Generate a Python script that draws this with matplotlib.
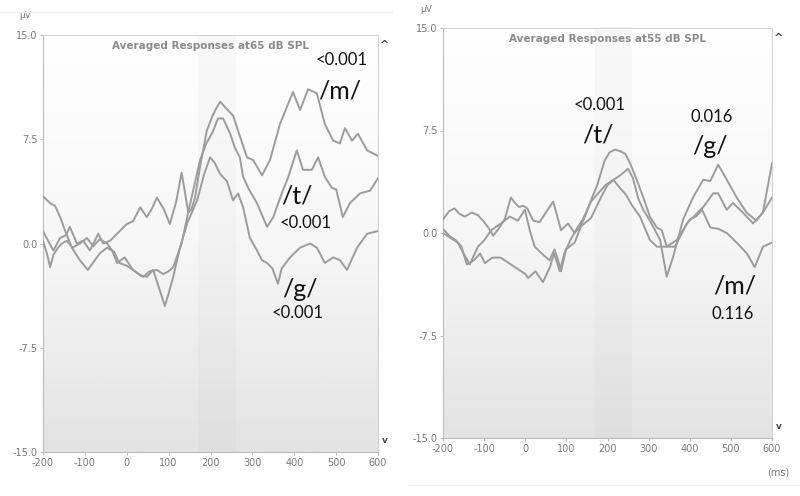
import numpy as np
import matplotlib
matplotlib.use("Agg")
import matplotlib.pyplot as plt

# ---------------- data ----------------
xticks = [-200, -100, 0, 100, 200, 300, 400, 500, 600]
yticks = [-15.0, -7.5, 0.0, 7.5, 15.0]
ytick_labels = ["-15.0", "-7.5", "0.0", "7.5", "15.0"]

titles = ["Averaged Responses at65 dB SPL", "Averaged Responses at55 dB SPL"]

# Left panel (65 dB SPL)
L_m_ms = [-200, -188, -175, -159, -145, -136, -119, -104, -88, -68, -56, -40, -20, 0, 15, 32, 48, 60, 72, 88,
          103, 118, 131, 140, 147, 155, 163, 175, 191, 205, 215, 223, 235, 254, 266, 287, 302, 323, 342, 366,
          386, 397, 414, 433, 454, 473, 493, 509, 521, 538, 552, 574, 600]
L_m_uv = [0.9, 0.2, -0.5, 0.4, 0.6, 1.2, 0.0, 0.2, -0.5, 0.7, 0.0, 0.2, 0.8, 1.4, 1.6, 2.6, 1.9, 2.5, 3.3, 2.5,
          1.4, 3.0, 5.1, 3.5, 2.2, 2.5, 3.3, 5.5, 8.1, 9.2, 9.8, 10.2, 9.8, 9.2, 8.1, 6.2, 6.0, 4.9, 6.0, 8.6,
          10.1, 10.9, 9.6, 11.1, 10.8, 8.6, 7.4, 7.2, 8.3, 7.4, 7.9, 6.7, 6.3]

L_t_ms = [-200, -183, -171, -159, -147, -131, -112, -93, -81, -64, -47, -30, -18, 0, 20, 39, 55, 72, 87, 100,
          111, 131, 145, 160, 175, 190, 205, 218, 230, 247, 258, 270, 278, 290, 311, 335, 350, 370, 386, 406,
          421, 442, 457, 473, 490, 500, 516, 533, 557, 581, 600]
L_t_uv = [3.4, 2.9, 2.7, 1.9, 0.9, -0.3, -1.2, -1.9, -1.4, -0.7, -0.3, -0.6, -1.4, -1.6, -2.0, -2.4, -2.0, -1.9, -2.2, -2.0,
          -1.7, 0.0, 2.0, 4.0, 6.0, 7.2, 8.0, 9.0, 9.0, 7.9, 6.9, 6.2, 4.8, 4.0, 2.9, 1.2, 1.9, 3.6, 4.8, 6.7,
          5.3, 5.3, 6.2, 4.8, 4.0, 3.9, 1.9, 2.9, 3.6, 3.8, 4.7]

L_g_ms = [-200, -190, -183, -175, -164, -155, -143, -130, -112, -95, -80, -65, -47, -35, -23, -5, 15, 32, 48, 63,
          75, 91, 100, 111, 127, 145, 168, 185, 199, 210, 223, 239, 254, 266, 278, 294, 311, 323, 335, 348,
          361, 370, 390, 414, 438, 454, 473, 493, 509, 526, 550, 574, 600]
L_g_uv = [0.2, -0.8, -1.7, -0.8, -0.3, 0.0, 0.2, -0.3, 0.0, 0.4, -0.2, 0.3, 0.0, -0.5, -1.4, -1.0, -1.9, -2.3, -2.4, -1.9,
          -3.0, -4.5, -3.6, -2.4, -0.3, 1.5, 3.1, 5.0, 6.2, 5.8, 5.0, 4.5, 3.1, 3.6, 2.6, 0.4, -0.5, -1.2, -1.4, -1.8,
          -2.9, -1.8, -1.0, -0.3, 0.0, -0.3, -1.4, -1.0, -1.2, -1.9, -0.3, 0.7, 0.9]

# Right panel (55 dB SPL)
R_t_ms = [-200, -185, -172, -160, -147, -130, -115, -100, -90, -78, -65, -50, -35, -25, -15, -5, 5, 19, 35, 50,
          68, 78, 87, 104, 120, 135, 145, 160, 175, 193, 205, 218, 230, 243, 255, 271, 287, 303, 320, 332,
          344, 364, 393, 433, 457, 469, 490, 505, 529, 554, 578, 600]
R_t_uv = [1.0, 1.6, 1.8, 1.4, 1.2, 1.5, 1.3, 0.8, 0.4, -0.2, 0.3, 1.0, 2.6, 2.2, 1.9, 2.0, 1.8, 0.9, 0.8, 1.5,
          2.3, 1.2, 0.2, 0.7, 0.0, 0.5, 1.2, 2.4, 3.5, 5.3, 5.9, 6.1, 6.0, 5.8, 5.1, 3.9, 2.6, 1.2, 0.4, 0.2,
          -1.0, -1.0, 0.7, 1.9, 2.9, 2.9, 1.7, 2.2, 1.5, 0.7, 1.5, 2.6]

R_g_ms = [-200, -185, -164, -150, -135, -115, -99, -83, -59, -38, -18, -1, 11, 23, 40, 59, 71, 80, 87, 99,
          120, 136, 160, 184, 200, 215, 230, 250, 262, 275, 287, 305, 328, 344, 360, 384, 408, 433, 450, 469,
          490, 514, 538, 562, 578, 600]
R_g_uv = [0.0, -0.3, -0.7, -1.5, -2.3, -1.0, -0.5, 0.2, 0.7, 1.2, 0.9, 1.7, 0.2, -1.0, -1.5, -2.0, -1.2, -2.0, -2.8, -1.2,
          -0.7, 0.5, 1.1, 2.6, 3.5, 3.9, 4.2, 4.7, 4.0, 2.5, 1.7, 0.8, -0.5, -3.2, -1.7, 1.0, 2.6, 3.9, 3.8, 5.0,
          3.9, 2.6, 1.5, 0.9, 1.5, 5.1]

R_m_ms = [-200, -185, -170, -155, -142, -125, -110, -98, -80, -60, -40, -20, 0, 7, 25, 43, 60, 70, 84, 95,
          110, 125, 140, 160, 180, 195, 214, 230, 245, 260, 279, 303, 320, 344, 369, 400, 415, 430, 450, 470,
          490, 514, 539, 558, 578, 600]
R_m_uv = [0.3, -0.2, -0.5, -1.0, -2.3, -2.0, -1.5, -2.2, -1.8, -1.8, -2.2, -2.6, -3.0, -3.3, -2.8, -3.6, -2.5, -1.5, -2.8, -1.5,
          -0.5, 0.3, 1.0, 2.3, 3.0, 3.5, 3.9, 3.3, 2.8, 2.0, 1.2, -0.5, -1.0, -1.0, -0.5, 1.0, 1.2, 1.7, 0.4, 0.3,
          0.0, -0.7, -1.5, -2.5, -1.0, -0.7]

band = (170, 260)

left_notes = [("<0.001", 514, 13.2, 12), ("/m/", 509, 11.0, 18),
              ("/t/", 407, 3.4, 18), ("<0.001", 426, 1.5, 12),
              ("/g/", 414, -3.3, 18), ("<0.001", 409, -5.0, 12)]
right_notes = [("<0.001", 182, 9.4, 12), ("/t/", 177, 7.2, 18),
               ("0.016", 454, 8.5, 12), ("/g/", 449, 6.3, 18),
               ("/m/", 510, -3.9, 18), ("0.116", 505, -5.9, 12)]

# ---------------- drawing ----------------
fig = plt.figure(figsize=(8.0, 4.96), dpi=100)
fig.patch.set_facecolor("white")

small_family = ["Liberation Sans Narrow", "DejaVu Sans"]
tick_font = dict(family=small_family, size=7, color="#777777")
note_font = ["Lato", "DejaVu Sans"]

panels = [
    (fig.add_axes([43 / 800, 1 - 452 / 496, 335 / 800, 417 / 496]), titles[0],
     [(L_m_ms, L_m_uv), (L_t_ms, L_t_uv), (L_g_ms, L_g_uv)], left_notes),
    (fig.add_axes([443 / 800, 1 - 438 / 496, 329 / 800, 410 / 496]), titles[1],
     [(R_t_ms, R_t_uv), (R_g_ms, R_g_uv), (R_m_ms, R_m_uv)], right_notes),
]

# row 0 drawn at the bottom (origin='lower'): grey at bottom, white at top
grad = np.linspace(1, 0, 256).reshape(-1, 1)
cmap = matplotlib.colors.LinearSegmentedColormap.from_list("bg", ["#ffffff", "#f7f7f7", "#e3e3e3"])

for i, (ax, title, series, notes) in enumerate(panels):
    ax.imshow(grad, extent=[-200, 600, -15, 15], aspect="auto", cmap=cmap, vmin=0, vmax=1,
              zorder=0, origin="lower", interpolation="bilinear")
    ax.set_xlim(-200, 600)
    ax.set_ylim(-15, 15)
    ax.axvspan(band[0], band[1], color="#888888", alpha=0.045, lw=0, zorder=1)
    for xs, ys in series:
        ax.plot(xs, ys, color="#9c9c9c", lw=1.4, zorder=3, solid_joinstyle="round")
    ax.set_xticks(xticks)
    ax.set_xticklabels([str(t) for t in xticks], **tick_font)
    ax.set_yticks(yticks)
    ax.set_yticklabels(ytick_labels, **tick_font)
    ax.tick_params(length=2, width=0.6, color="#aaaaaa", pad=2)
    for s in ax.spines.values():
        s.set_color("#d4d4d4")
        s.set_linewidth(0.8)
    ax.spines["left"].set_color("#bbbbbb")
    ax.spines["bottom"].set_color("#bbbbbb")
    ax.text(0.5, 0.985, title, transform=ax.transAxes, ha="center", va="top",
            family=small_family, size=7.5, color="#8a8a8a", fontweight="bold")
    ax.text(-0.07, 1.035, "µV", transform=ax.transAxes, ha="left", va="bottom",
            family=small_family, size=6.5, color="#777777")
    ax.text(1.02, 0.975, "^", transform=ax.transAxes, ha="center", va="center",
            size=8, color="#444444", fontweight="bold")
    ax.text(1.02, 0.028, "v", transform=ax.transAxes, ha="center", va="center",
            size=6.5, color="#444444", fontweight="bold")
    for txt, x, y, sz in notes:
        ax.text(x, y, txt, ha="center", va="center", family=note_font, size=sz, color="#111111", zorder=5)

panels[1][0].text(1.02, -0.085, "(ms)", transform=panels[1][0].transAxes, ha="center", va="center",
                  family=small_family, size=7, color="#777777")

fig.add_artist(matplotlib.lines.Line2D([0.0, 0.49], [1 - 12 / 496, 1 - 12 / 496], color="#eeeeee", lw=1))
fig.add_artist(matplotlib.lines.Line2D([0.51, 1.0], [1 - 485 / 496, 1 - 485 / 496], color="#eeeeee", lw=1))

fig.savefig("out.png", dpi=100)
